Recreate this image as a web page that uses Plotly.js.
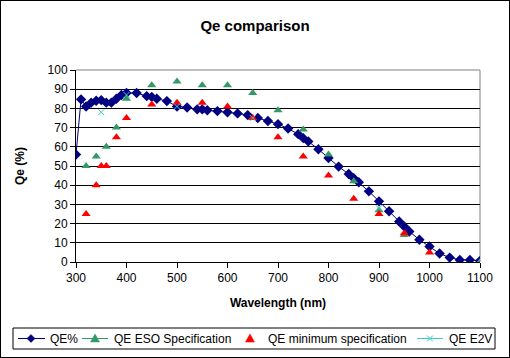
<!DOCTYPE html>
<html>
<head>
<meta charset="utf-8">
<script src="https://cdn.plot.ly/plotly-3.0.1.min.js"></script>
<style>
html,body{margin:0;padding:0;background:#fff;}
#wrap{position:relative;width:510px;height:358px;}
#chart{width:510px;height:358px;}
#frame{position:absolute;left:0;top:0;width:510px;height:358px;box-sizing:border-box;border:1px solid #000;pointer-events:none;}
</style>
</head>
<body>
<div id="wrap"><div id="chart"></div><div id="frame"></div></div>
<script>
const qeX = [300,310,320,330,340,350,360,370,380,390,400,420,440,450,460,480,500,520,540,550,560,580,600,620,640,660,680,700,720,740,750,760,780,800,820,840,850,860,880,900,920,940,950,960,980,1000,1020,1040,1060,1080,1100];
const qeY = [56,84.7,81,83,84,84.3,83,83,85,87,88,88,86.4,86,85,83.8,81,80.5,79.5,79.5,79,78.6,78,77.4,76.5,75,73.4,71.8,69.5,66.6,64.5,62.8,58.7,54.2,49.7,45.8,43.6,41.5,36.8,31.6,26.4,21.1,18.5,15.9,11.6,8.1,4.4,2.3,1.1,1.1,0.6];
const esoX = [320,340,360,380,400,450,500,550,600,650,700,750,800,850,900,950,1100];
const esoY = [50,55,60,70,85,92,94,92,92,88,79,69,56,42,27,14,0];
const minX = [320,340,350,360,380,400,450,500,550,600,650,700,750,800,850,900,950,1000];
const minY = [25,40,50,50,65,75,82,83,83,81,75,65,55,45,33,25,15,5];
const e2vX = [350,400,500,650,900];
const e2vY = [78,87,81,75,28];
const seriesNames = ['QE%','QE ESO Specification','QE minimum specification','QE E2V'];
const seriesColors = ['#000080','#339966','#FF0000','#33CCCC'];

const font = 'Liberation Sans, Arial, sans-serif';
const traces = [
  {name:seriesNames[0], x:qeX, y:qeY, mode:'lines+markers', line:{color:seriesColors[0], width:1},
   marker:{symbol:'diamond', size:8, color:seriesColors[0]}},
  {name:seriesNames[1], x:esoX, y:esoY, mode:'markers',
   marker:{symbol:'triangle-up', size:8, color:seriesColors[1]}},
  {name:seriesNames[2], x:minX, y:minY, mode:'markers',
   marker:{symbol:'triangle-up', size:8, color:seriesColors[2]}},
  {name:seriesNames[3], x:e2vX, y:e2vY, mode:'markers',
   marker:{symbol:'x-thin-open', size:6, color:seriesColors[3], line:{color:seriesColors[3], width:1}}}
];

// plot-area geometry (pixels) used only to place the hand-built legend
const L = 76, R = 480, T = 70, B = 262;
const px = v => (v - L) / (R - L);
const py = v => (B - v) / (B - T);
const legY = 338.5;
const shapes = [
  {type:'line', xref:'paper', yref:'paper', x0:0, x1:1, y0:1, y1:1, line:{color:'#808080', width:1}, layer:'between'},
  {type:'line', xref:'paper', yref:'paper', x0:1, x1:1, y0:0, y1:1, line:{color:'#808080', width:1}, layer:'between'},
  {type:'rect', xref:'paper', yref:'paper', x0:px(13), x1:px(495), y0:py(349), y1:py(328), line:{color:'#000', width:1}, fillcolor:'#fff'}
];
const annotations = [];
const legItems = [
  {line:[18,45], mark:31, text:48, sym:'diamond'},
  {line:[82,108], mark:95, text:112, sym:'tri'},
  {line:null, mark:250, text:266, sym:'tri'},
  {line:[417,443], mark:430, text:447, sym:'x'}
];
function pathFromPts(pts, close){
  return pts.map((p,i)=>(i?'L':'M')+px(p[0]).toFixed(5)+','+py(p[1]).toFixed(5)).join(' ')+(close?' Z':'');
}
legItems.forEach((it,i)=>{
  const c = seriesColors[i];
  if(it.line) shapes.push({type:'line', xref:'paper', yref:'paper', x0:px(it.line[0]), x1:px(it.line[1]), y0:py(legY), y1:py(legY), line:{color:c, width:1}});
  const m = it.mark, y = legY;
  if(it.sym==='diamond'){
    shapes.push({type:'path', xref:'paper', yref:'paper', path:pathFromPts([[m,y-4],[m+4,y],[m,y+4],[m-4,y]],true), fillcolor:c, line:{color:c, width:0.5}});
  } else if(it.sym==='tri'){
    shapes.push({type:'path', xref:'paper', yref:'paper', path:pathFromPts([[m,y-4.5],[m+4.5,y+3.5],[m-4.5,y+3.5]],true), fillcolor:c, line:{color:c, width:0.5}});
  } else {
    shapes.push({type:'path', xref:'paper', yref:'paper', path:pathFromPts([[m-3,y-3],[m+3,y+3]],false), line:{color:c, width:1}});
    shapes.push({type:'path', xref:'paper', yref:'paper', path:pathFromPts([[m-3,y+3],[m+3,y-3]],false), line:{color:c, width:1}});
  }
  annotations.push({xref:'paper', yref:'paper', x:px(it.text), y:py(legY), xanchor:'left', yanchor:'middle',
    text:seriesNames[i], showarrow:false, font:{family:font, size:12, color:'#000'}});
});

const layout = {
  width:510, height:358,
  margin:{l:L, r:510-R, t:T, b:358-B, pad:0},
  paper_bgcolor:'#fff', plot_bgcolor:'#fff',
  font:{family:font, size:12, color:'#000'},
  title:{text:'<b>Qe comparison</b>', font:{family:font, size:15, color:'#000'}, x:0.5, xanchor:'center', yref:'container', y:0.927, yanchor:'middle'},
  xaxis:{range:[300,1100], dtick:100, tick0:300, showgrid:false, zeroline:false,
    showline:true, linecolor:'#000', linewidth:1, ticks:'outside', ticklen:5, tickcolor:'#000',
    tickfont:{family:font, size:12},
    title:{text:'<b>Wavelength (nm)</b>', font:{family:font, size:12}, standoff:14}},
  yaxis:{range:[0,100], dtick:10, tick0:0, showgrid:true, gridcolor:'#000', gridwidth:1, zeroline:false,
    showline:true, linecolor:'#000', linewidth:1, ticks:'outside', ticklen:5, tickcolor:'#000',
    tickfont:{family:font, size:12},
    title:{text:'<b>Qe (%)</b>', font:{family:font, size:12}, standoff:20}},
  shapes:shapes,
  annotations:annotations,
  showlegend:false
};
Plotly.newPlot('chart', traces, layout, {displayModeBar:false, staticPlot:true});
</script>
</body>
</html>
